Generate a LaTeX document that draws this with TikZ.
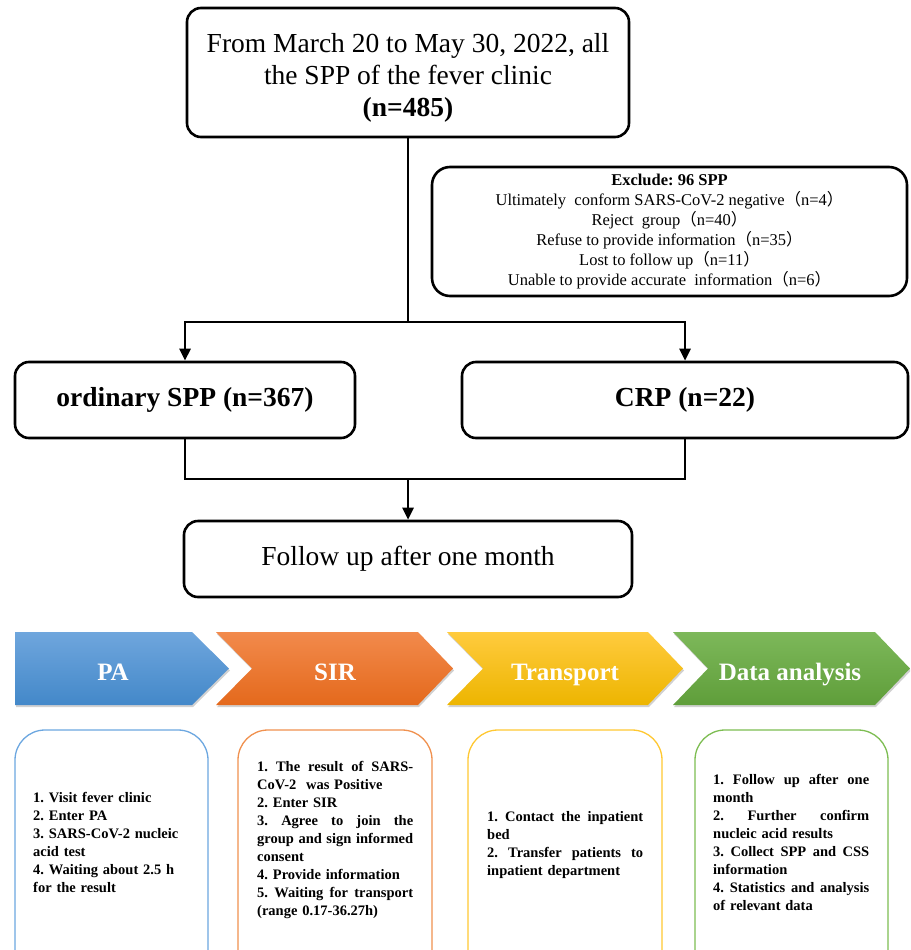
\documentclass[tikz,border=0pt]{standalone}
\usepackage{fontspec}
\setmainfont{Liberation Serif}
\newfontfamily\cjk{Noto Sans CJK SC}
\usetikzlibrary{arrows.meta,shadows}
\frenchspacing
\newcommand{\JL}[1]{\leavevmode\hbox to 156pt{\spaceskip=0.25em plus 1fil\relax #1}\\}
\newcommand{\fwl}{{\cjk （}}
\newcommand{\fwr}{{\cjk ）}}
\definecolor{paT}{HTML}{6FA6DD}
\definecolor{paB}{HTML}{4388C9}
\definecolor{sirT}{HTML}{F28A4C}
\definecolor{sirB}{HTML}{E4691C}
\definecolor{trT}{HTML}{FFCB3E}
\definecolor{trB}{HTML}{EDB500}
\definecolor{daT}{HTML}{7DB85A}
\definecolor{daB}{HTML}{5F9E3A}
\definecolor{cardblue}{HTML}{6CA7E0}
\definecolor{cardorange}{HTML}{F0914F}
\definecolor{cardyellow}{HTML}{FFC832}
\definecolor{cardgreen}{HTML}{7DBD52}
\begin{document}
\begin{tikzpicture}[x=1pt,y=-1pt,
  blackbox/.style={draw=black, line width=2.6pt, rounded corners=14pt, inner sep=0pt, align=center},
  conn/.style={line width=2.6pt},
  arr/.style={conn, -{Triangle[length=12pt,width=11pt]}},
  chev/.style={drop shadow={opacity=0.3,shadow xshift=1pt,shadow yshift=-2pt,fill=black!60}},
  chevtext/.style={anchor=base, text=white, font=\fontsize{25}{30}\selectfont\bfseries},
  stepcard/.style={line width=1.3pt, rounded corners=30pt, fill=white},
  cardtext/.style={anchor=north west, inner sep=0pt, text width=156pt, align=left, font=\fontsize{14.5}{18}\selectfont\bfseries}
]
\useasboundingbox (0,0) rectangle (910,950);
\clip (0,0) rectangle (910,950);
% top flow
\node[blackbox, minimum width=442pt, minimum height=129pt] (top) at (408,72.5) {};
\node[align=center, inner sep=0pt, font=\fontsize{27.5}{32}\selectfont] (toptext) at (408,77.5)
  {From March 20 to May 30, 2022, all\\the SPP of the fever clinic\\\textbf{(n=485)}};
\node[blackbox, minimum width=475pt, minimum height=129pt, rounded corners=18pt, font=\fontsize{16.5}{20}\selectfont] (excl) at (669.5,231.5)
  {\textbf{Exclude: 96 SPP}\\Ultimately\ \ conform SARS-CoV-2 negative\fwl n=4\fwr\\Reject\ \ group\fwl n=40\fwr\\Refuse to provide information\fwl n=35\fwr\\Lost to follow up\fwl n=11\fwr\\Unable to provide accurate\ \ information\fwl n=6\fwr};
\node[blackbox, minimum width=340pt, minimum height=76pt, font=\fontsize{27.5}{32}\selectfont\bfseries] (ord) at (185,400) {ordinary SPP (n=367)};
\node[blackbox, minimum width=446pt, minimum height=76pt, font=\fontsize{27.5}{32}\selectfont\bfseries] (crp) at (685,400) {CRP (n=22)};
\node[blackbox, minimum width=448pt, minimum height=76pt, font=\fontsize{27.5}{32}\selectfont] (follow) at (408,559) {Follow up after one month};
\coordinate (split) at (408,322);
\coordinate (join) at (408,479);
\draw[conn] (top.south) -- (split);
\draw[arr] (split) -| (ord.north);
\draw[arr] (split) -| (crp.north);
\draw[conn] (ord.south) |- (join);
\draw[conn] (crp.south) |- (join);
\draw[arr] (join) -- (follow.north);
% chevrons
\path[chev, top color=paT, bottom color=paB] (15,632) -- (192,632) -- (229,668.5) -- (192,705) -- (15,705) -- cycle;
\path[chev, top color=sirT, bottom color=sirB] (216,632) -- (418,632) -- (453,668.5) -- (418,705) -- (216,705) -- (252,668.5) -- cycle;
\path[chev, top color=trT, bottom color=trB] (447,632) -- (648,632) -- (683,668.5) -- (648,705) -- (447,705) -- (483,668.5) -- cycle;
\path[chev, top color=daT, bottom color=daB] (673,632) -- (875,632) -- (910,668.5) -- (875,705) -- (673,705) -- (708,668.5) -- cycle;
\node[chevtext] (pa) at (113,680) {PA};
\node[chevtext] (sir) at (335,680) {SIR};
\node[chevtext] (tr) at (565,680) {Transport};
\node[chevtext] (da) at (790,680) {Data analysis};
% cards
\draw[stepcard, draw=cardblue] (15,730) rectangle (208,1000);
\draw[stepcard, draw=cardorange] (238,730) rectangle (432,1000);
\draw[stepcard, draw=cardyellow] (468,730) rectangle (662,1000);
\draw[stepcard, draw=cardgreen] (695,730) rectangle (888,1000);
\node[cardtext, text width=150pt] (patext) at (33,792)
  {1. Visit fever clinic\\2. Enter PA\\3. SARS-CoV-2 nucleic\\acid test\\4. Waiting about 2.5 h\\for the result};
\node[cardtext, text width=158pt] (sirtext) at (257,761)
  {\JL{1. The result of SARS-}CoV-2\ \ was Positive\\2. Enter SIR\\\JL{3. Agree to join the}\JL{group and sign informed}consent\\4. Provide information\\\JL{5. Waiting for transport}(range 0.17-36.27h)};
\node[cardtext, text width=158pt] (trtext) at (487,811)
  {\JL{1. Contact the inpatient}bed\\\JL{2. Transfer patients to}inpatient department};
\node[cardtext, text width=158pt] (datext) at (713,774)
  {\JL{1. Follow up after one}month\\\JL{2. Further confirm}nucleic acid results\\\JL{3. Collect SPP and CSS}information\\\JL{4. Statistics and analysis}of relevant data};
\end{tikzpicture}
\end{document}
